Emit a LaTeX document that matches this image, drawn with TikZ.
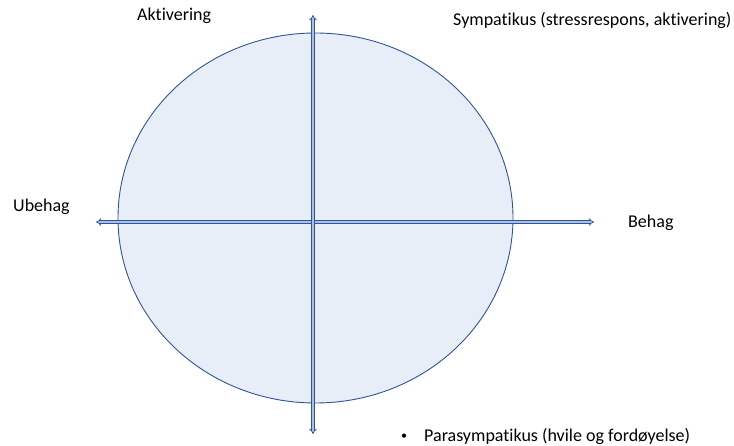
\documentclass[tikz,border=0pt]{standalone}
\usepackage{fontspec}
\setmainfont[Ligatures=NoCommon]{Carlito}
\usetikzlibrary{arrows.meta}
\definecolor{rimblue}{HTML}{2F5597}
\definecolor{paleblue}{HTML}{E8EEF8}
\definecolor{shaftblue}{HTML}{A9BFE6}

\tikzset{
	axisarrow/.style={draw=rimblue, line width=0.8pt, double=shaftblue,
		double distance=1.8pt, {Implies}-{Implies}},
	axistext/.style={inner sep=0pt, anchor=base west,
		font=\fontsize{18}{21}\selectfont}
}

\begin{document}
\begin{tikzpicture}[x=1pt, y=-1pt]
\useasboundingbox (0,0) rectangle (734,446);

\filldraw[fill=paleblue, draw=rimblue, line width=0.9pt]
	(315.5,218) ellipse [x radius=197.5, y radius=185];

\coordinate (ubehag) at (96,222);
\coordinate (behag) at (594,222);
\coordinate (aktiv) at (313,15);
\coordinate (passiv) at (313,434);

\draw[axisarrow] (ubehag) -- (behag);
\draw[axisarrow] (passiv) -- (aktiv);

\node[axistext] (aktivering) at (137,21) {Aktivering};
\node[axistext] (sympatikus) at (453,26) {Sympatikus (stressrespons, aktivering)};
\node[axistext] (ubehagtext) at (13,212) {Ubehag};
\node[axistext] (behagtext) at (628,228) {Behag};
\node[axistext] (parasympatikus) at (401,441)
	{\makebox[23pt][l]{\raisebox{1.5pt}{\fontsize{12}{14}\selectfont•}}Parasympatikus (hvile og fordøyelse)};
\end{tikzpicture}
\end{document}
